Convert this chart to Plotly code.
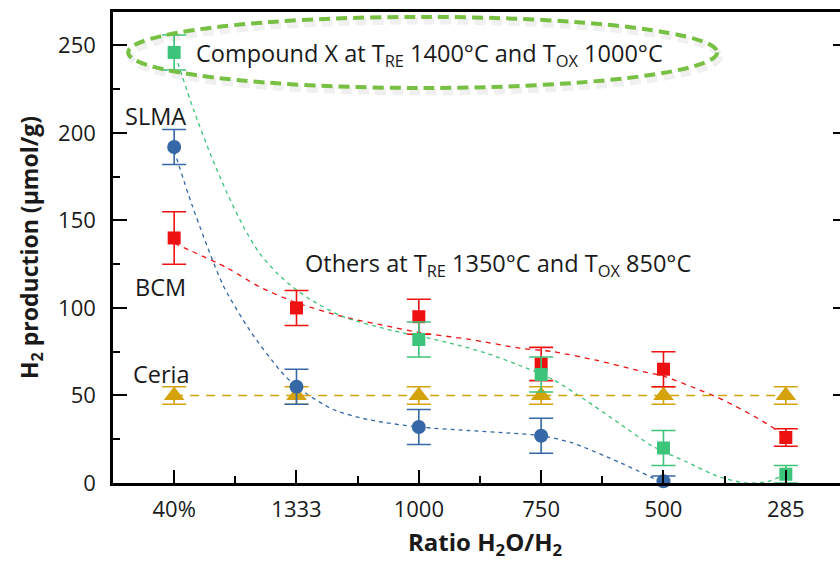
import plotly.graph_objects as go

# ---------------- data ----------------
categories = ["40%", "1333", "1000", "750", "500", "285"]
xpos = [0, 1, 2, 3, 4, 5]

compound_x = [246, None, 82, 62, 20, 5]
compound_x_err = [10, None, 10, 10, 10, 5]

slma = [192, 55, 32, 27, 1, None]
slma_err = [10, 10, 10, 10, 3, None]

bcm = [140, 100, 95, 68, 65, 26]
bcm_err = [15, 10, 10, 9.5, 10, 5]

ceria = [50, 50, 50, 50, 50, 50]
ceria_err = [5, 5, 5, 5, 5, 5]

# dashed guide curves
slma_fit_x = [0, 0.15, 0.4, 0.62, 0.87, 1.0, 1.3, 1.6, 2.0, 2.4, 2.75, 3.0, 3.25, 3.65, 4.0]
slma_fit_y = [190, 158, 113, 87, 64, 55, 42, 36, 32, 30, 28.5, 27, 23, 11.5, 0]

bcm_fit_x = [0, 0.43, 0.7, 1.0, 1.38, 1.79, 2.0, 2.42, 2.83, 3.1, 3.46, 3.78, 4.0, 4.23, 4.5, 4.77, 5.0]
bcm_fit_y = [137, 123, 112, 103, 95, 89, 86, 82, 77, 75, 70, 64.5, 61, 55, 47, 37, 27]

cx_fit_x = [0.03, 0.16, 0.29, 0.43, 0.57, 0.70, 0.84, 0.97, 1.11, 1.38, 1.79, 2.0, 2.28, 2.56,
            2.83, 3.1, 3.37, 3.64, 3.91, 4.19, 4.46, 4.68, 4.85, 5.0]
cx_fit_y = [240, 213, 189, 166, 146, 131, 120, 112, 105, 95, 87, 84, 79.5, 74,
            67, 59, 47, 34, 21, 12, 3.4, 0, 0.8, 5]

y_ticks = [0, 50, 100, 150, 200, 250]

# ---------------- style ----------------
GREEN = "#3cc47a"
BLUE = "#3667a6"
RED = "#ee1111"
GOLD = "#d4a20a"
ELLIPSE = "#78c043"
FONT = "Open Sans"
TXT = "#1a1a1a"

fig = go.Figure()

def fit(xs, ys, color, dash="4px,4px"):
    fig.add_trace(go.Scatter(x=xs, y=ys, mode="lines",
                             line=dict(color=color, width=1.3, dash=dash, shape="spline", smoothing=0.7),
                             hoverinfo="skip", showlegend=False))

fit(slma_fit_x, slma_fit_y, BLUE)
fit(bcm_fit_x, bcm_fit_y, RED, "5px,5px")
fit(cx_fit_x, cx_fit_y, GREEN)
fig.add_trace(go.Scatter(x=xpos, y=ceria, mode="lines", line=dict(color=GOLD, width=1.5, dash="9px,7px"),
                         hoverinfo="skip", showlegend=False))

def pts(ys, errs, color, symbol, size):
    fig.add_trace(go.Scatter(x=xpos, y=ys, mode="markers",
                             marker=dict(color=color, symbol=symbol, size=size, line=dict(width=0)),
                             error_y=dict(type="data", array=errs, visible=True, color=color, thickness=1.6, width=12),
                             showlegend=False, cliponaxis=False))

pts(ceria, ceria_err, GOLD, "triangle-up", 18)
pts(slma, slma_err, BLUE, "circle", 14)
pts(bcm, bcm_err, RED, "square", 13)
pts(compound_x, compound_x_err, GREEN, "square", 13)

# invisible trace for right-hand tick axis
fig.add_trace(go.Scatter(x=[0], y=[0], yaxis="y2", mode="markers", marker=dict(opacity=0),
                         hoverinfo="skip", showlegend=False))

# ellipse (soft shadow + dashed outline)
fig.add_shape(type="circle", xref="x", yref="y", x0=-0.376 + 0.02, x1=4.439 + 0.02, y0=225.7 - 2.3, y1=266.3 - 2.3,
              line=dict(color="rgba(0,0,0,0.06)", width=7, dash="11px,6px"), layer="above")
fig.add_shape(type="circle", xref="x", yref="y", x0=-0.376, x1=4.439, y0=225.7, y1=266.3,
              line=dict(color=ELLIPSE, width=4, dash="11px,6px"), layer="above")

ann_font = dict(family=FONT, size=23.5, color=TXT)
annotations = [
    dict(x=0.163, y=244.6, text="Compound X at T<sub>RE</sub> 1400°C and T<sub>OX</sub> 1000°C", xanchor="left", yanchor="middle"),
    dict(x=1.055, y=124.6, text="Others at T<sub>RE</sub> 1350°C and T<sub>OX</sub> 850°C", xanchor="left", yanchor="middle"),
    dict(x=-0.155, y=209.7, text="SLMA", xanchor="center", yanchor="middle"),
    dict(x=-0.114, y=112, text="BCM", xanchor="center", yanchor="middle"),
    dict(x=-0.106, y=62.3, text="Ceria", xanchor="center", yanchor="middle"),
]
for a in annotations:
    fig.add_annotation(xref="x", yref="y", showarrow=False, font=ann_font, **a)

# axis titles
fig.add_annotation(xref="paper", yref="paper", x=(486 - 113) / 727, y=(483 - 543) / 471, showarrow=False,
                   text="<b>Ratio H<sub>2</sub>O/H<sub>2</sub></b>", font=dict(family=FONT, size=24, color=TXT),
                   xanchor="center", yanchor="middle")
fig.add_annotation(xref="paper", yref="paper", x=(30 - 113) / 727, y=(483 - 248) / 471, showarrow=False,
                   text="<b>H<sub>2</sub> production (µmol/g)</b>", font=dict(family=FONT, size=23, color=TXT),
                   textangle=-90, xanchor="center", yanchor="middle")

fig.update_layout(
    width=840, height=562,
    margin=dict(l=113, r=0, t=12, b=79),
    paper_bgcolor="white", plot_bgcolor="white",
    showlegend=False,
    xaxis=dict(range=[-0.5, 5.443], tickmode="array", tickvals=xpos, ticktext=categories,
               showgrid=False, zeroline=False, showline=True, linecolor="black", linewidth=2.5, mirror=True,
               ticks="inside", ticklen=13, tickwidth=2, tickcolor="black",
               minor=dict(tickmode="array", tickvals=[0.5, 1.5, 2.5, 3.5, 4.5], ticks="inside",
                          ticklen=7, tickwidth=2, tickcolor="black"),
               tickfont=dict(family=FONT, size=22, color=TXT), ticklabelstandoff=5),
    yaxis=dict(range=[0, 269.1], tickmode="array", tickvals=y_ticks,
               showgrid=False, zeroline=False, showline=True, linecolor="black", linewidth=2.5, mirror=False,
               ticks="inside", ticklen=14, tickwidth=2, tickcolor="black",
               minor=dict(dtick=25, tick0=0, ticks="inside", ticklen=7, tickwidth=2, tickcolor="black"),
               tickfont=dict(family=FONT, size=22, color=TXT), ticklabelstandoff=10),
    yaxis2=dict(range=[0, 269.1], overlaying="y", side="right", tickmode="array", tickvals=y_ticks,
                showgrid=False, zeroline=False, showline=False, showticklabels=False,
                ticks="inside", ticklen=7, tickwidth=2, tickcolor="black"),
)

fig.write_html("out.html", config={"displayModeBar": False},
               post_script="document.body.style.margin='0px';")
